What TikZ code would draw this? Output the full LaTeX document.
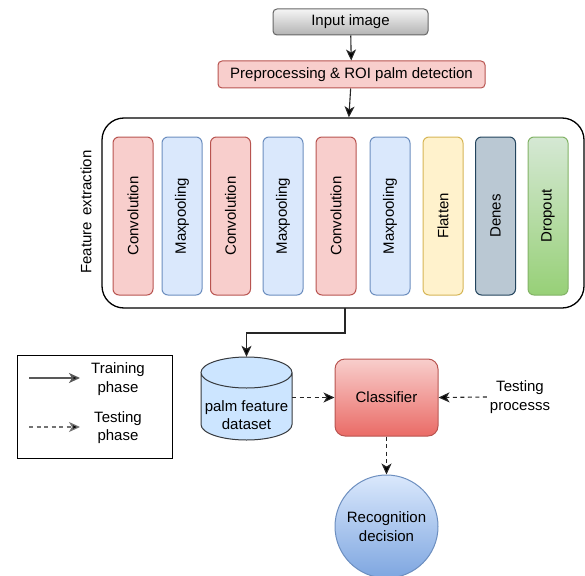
\documentclass[tikz,border=0pt]{standalone}
\usepackage{fontspec}
\setmainfont{Liberation Sans}
\usetikzlibrary{arrows.meta,calc}
\definecolor{grayF}{HTML}{F5F5F5}
\definecolor{grayB}{HTML}{B3B3B3}
\definecolor{grayS}{HTML}{666666}
\definecolor{pinkF}{HTML}{F8CECC}
\definecolor{pinkS}{HTML}{B85450}
\definecolor{redB}{HTML}{EA6B66}
\definecolor{blueF}{HTML}{DAE8FC}
\definecolor{blueS}{HTML}{6C8EBF}
\definecolor{blueB}{HTML}{7EA6E0}
\definecolor{yelF}{HTML}{FFF2CC}
\definecolor{yelS}{HTML}{D6B656}
\definecolor{slateF}{HTML}{BAC8D3}
\definecolor{slateS}{HTML}{23445D}
\definecolor{greenT}{HTML}{D5E8D4}
\definecolor{greenB}{HTML}{97D077}
\definecolor{greenS}{HTML}{82B366}
\definecolor{cylF}{HTML}{CCE5FF}
\definecolor{cylS}{HTML}{36393D}
\begin{document}
\begin{tikzpicture}[x=1pt,y=-1pt,
  txt/.style={font=\fontsize{15}{18.5}\selectfont, align=center, inner sep=0pt},
  topbox/.style={txt, draw, line width=1pt, rounded corners=4pt},
  layer/.style={txt, draw, line width=1pt, rounded corners=6pt, rotate=90,
    minimum width=158pt, minimum height=40pt},
  conv/.style={layer, fill=pinkF, draw=pinkS},
  pool/.style={layer, fill=blueF, draw=blueS},
  arr/.style={line width=1.1pt, draw=black!85, -{Stealth[length=11pt,width=10pt,inset=3pt,fill=black]}},
  darr/.style={arr, dash pattern=on 4pt off 3.5pt},
]
\useasboundingbox (0,0) rectangle (585,575);

% top boxes
\node[topbox, draw=grayS, top color=grayF, bottom color=grayB,
  minimum width=155pt, minimum height=26pt] (inp) at (350.5,22) {Input image};
\node[topbox, draw=pinkS, fill=pinkF,
  minimum width=267pt, minimum height=27pt] (pre) at (351.5,74.5) {Preprocessing \& ROI palm detection};

% container
\node[draw, line width=1.3pt, rounded corners=22pt,
  minimum width=482pt, minimum height=190pt, inner sep=0pt] (fe) at (343,213) {};
\node[txt, rotate=90] (felab) at (86,212) {Feature\, extraction};

% layers
\node[conv] (c1) at (133,216) {Convolution};
\node[pool] (p1) at (182,216) {Maxpooling};
\node[conv] (c2) at (230.5,216) {Convolution};
\node[pool] (p2) at (283,216) {Maxpooling};
\node[conv] (c3) at (336,216) {Convolution};
\node[pool] (p3) at (390,216) {Maxpooling};
\node[layer, fill=yelF, draw=yelS] (fl) at (443,216) {Flatten};
\node[layer, fill=slateF, draw=slateS] (de) at (495.5,216) {Denes};
\node[layer, draw=greenS, top color=greenT, bottom color=greenB] (dr) at (548,216) {Dropout};

\draw[arr] (inp) -- (pre);
\draw[arr] (pre) -- (fe);

% database cylinder
\node[minimum width=91pt, minimum height=83pt, inner sep=0pt] (db) at (246.5,398.5) {};
\fill[cylF] (201,372.5) -- (201,424.5) arc[start angle=180, end angle=0, x radius=45.5, y radius=15.5]
  -- (292,372.5) arc[start angle=360, end angle=180, x radius=45.5, y radius=15.5] -- cycle;
\draw[cylS, line width=1pt] (201,372.5) -- (201,424.5) arc[start angle=180, end angle=0, x radius=45.5, y radius=15.5]
  -- (292,372.5) arc[start angle=360, end angle=180, x radius=45.5, y radius=15.5]
  arc[start angle=180, end angle=0, x radius=45.5, y radius=15.5];
\node[txt] (dbt) at (246.5,415) {palm feature\\dataset};

\coordinate (tap) at (345,308);
\draw[arr] (tap) -- ++(0,25) -| (db.north);

% classifier
\node[txt, draw=pinkS, line width=1pt, rounded corners=10pt, top color=pinkF, bottom color=redB,
  minimum width=103pt, minimum height=77pt] (cls) at (386.5,397.5) {Classifier};
\node[txt] (tp) at (520,397) {Testing\\processs};
\node[txt, circle, draw=blueS, line width=1pt, top color=blueF, bottom color=blueB,
  minimum size=103pt] (rec) at (386.5,526.5) {Recognition\\decision};

\draw[darr] (db.east |- cls.west) -- (cls.west);
\draw[darr] ($(tp.west)+(-3,0)$) -- (cls.east);
\draw[darr] (cls) -- (rec);

% legend
\node[draw, line width=1pt, minimum width=155pt, minimum height=103pt, inner sep=0pt] (leg) at (94.5,406.5) {};
\coordinate (l1a) at (29,378);
\coordinate (l1b) at (80,378);
\coordinate (l2a) at (29,427);
\coordinate (l2b) at (80,427);
\draw[arr, draw=black!65, line width=1.5pt] (l1a) -- (l1b);
\draw[darr, draw=black!55, line width=1.3pt] (l2a) -- (l2b);
\node[txt] (ltr) at (118,379) {Training\\phase};
\node[txt] (lts) at (118,427.5) {Testing\\phase};
\end{tikzpicture}
\end{document}
